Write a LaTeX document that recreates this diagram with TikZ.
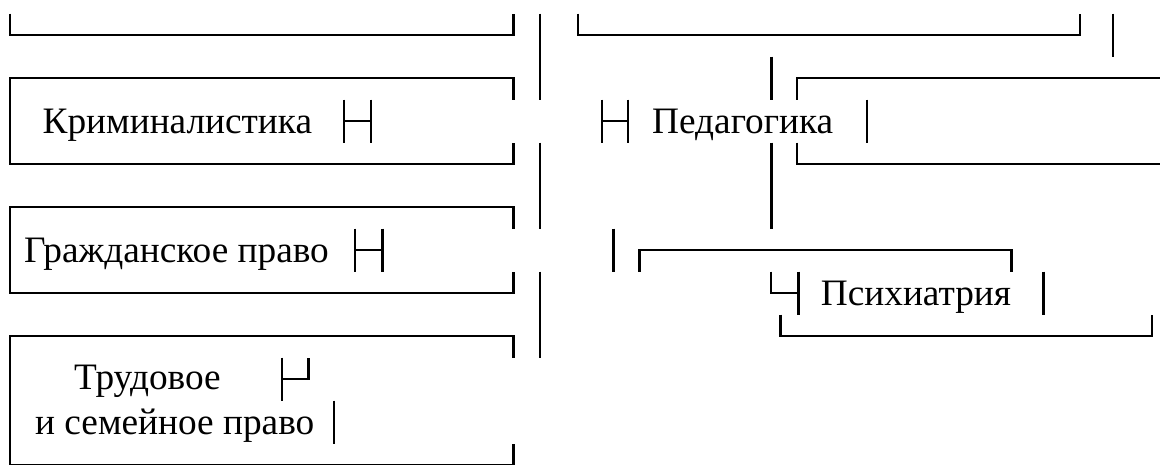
\documentclass[tikz,border=0pt]{standalone}
\usepackage{fontspec}
\setmainfont{Liberation Serif}
\newcommand\lblfont{\fontsize{37.3}{45}\selectfont}
\tikzset{
  x=1pt, y=-1pt,
  box/.style={line width=2.6pt, line join=miter},
  glyph/.style={line width=2.4pt, line join=miter},
  lbl/.style={anchor=base west, inner sep=0pt, font=\lblfont}
}
\begin{document}
\begin{tikzpicture}
\useasboundingbox (0,0) rectangle (1160,464);
% top brackets
\draw[box] (10,13.5) -- (10,35) -- (513.3,35) -- (513.3,13.5);
\draw[box] (578,13.5) -- (578,35) -- (1080,35) -- (1080,13.5);
\draw[box] (1113,13.5) -- (1113,56.5);
% central vertical line
\draw[box] (540,13.5) -- (540,99.5);
\draw[box] (540,142.5) -- (540,228.5);
\draw[box] (540,271.5) -- (540,357.5);
% left boxes
\draw[box] (513.3,99.5) -- (513.3,78) -- (10,78) -- (10,164) -- (513.3,164) -- (513.3,142.5);
\draw[box] (513.3,228.5) -- (513.3,207) -- (10,207) -- (10,293) -- (513.3,293) -- (513.3,271.5);
\draw[box] (513.3,357.5) -- (513.3,336) -- (10,336) -- (10,465) -- (513.3,465) -- (513.3,443.5);
% vertical line through Pedagogika
\draw[box] (771.5,56.5) -- (771.5,99.5);
\draw[box] (771.5,142.5) -- (771.5,228.5);
% Pedagogika box
\draw[box] (797,99.5) -- (797,78) -- (1170,78);
\draw[box] (797,142.5) -- (797,164) -- (1170,164);
% Psychiatry brackets
\draw[glyph] (613.3,228.5) -- (613.3,271.5);
\draw[box] (639.3,271.5) -- (639.3,250) -- (1011.5,250) -- (1011.5,271.5);
\draw[glyph] (771,271.5) -- (771,293) -- (798.5,293);
\draw[glyph] (798.5,271.5) -- (798.5,314.5);
\draw[glyph] (1043.5,271.5) -- (1043.5,314.5);
\draw[box] (780.7,314.5) -- (780.7,336) -- (1152,336) -- (1152,314.5);
% small glyphs
\draw[glyph] (344,99.5) -- (344,142.5) (370.7,99.5) -- (370.7,142.5) (344,121) -- (370.7,121);
\draw[glyph] (355,228.5) -- (355,271.5) (382.3,228.5) -- (382.3,271.5) (355,250) -- (382.3,250);
\draw[glyph] (602,99.5) -- (602,142.5) (628,99.5) -- (628,142.5) (602,121) -- (628,121);
\draw[glyph] (867,99.5) -- (867,142.5);
\draw[glyph] (281.7,357.5) -- (281.7,400.5) (281.7,379) -- (308.3,379) -- (308.3,357.5);
\draw[glyph] (334,400.5) -- (334,443.5);
% labels
\node[lbl] (krim) at (42.5,133) {Криминалистика};
\node[lbl] (grazhd) at (24,262) {Гражданское право};
\node[lbl] (trud1) at (74,389) {Трудовое};
\node[lbl] (trud2) at (35,434) {и семейное право};
\node[lbl] (ped) at (652,133) {Педагогика};
\node[lbl] (psych) at (820.7,305) {Психиатрия};
\end{tikzpicture}
\end{document}
